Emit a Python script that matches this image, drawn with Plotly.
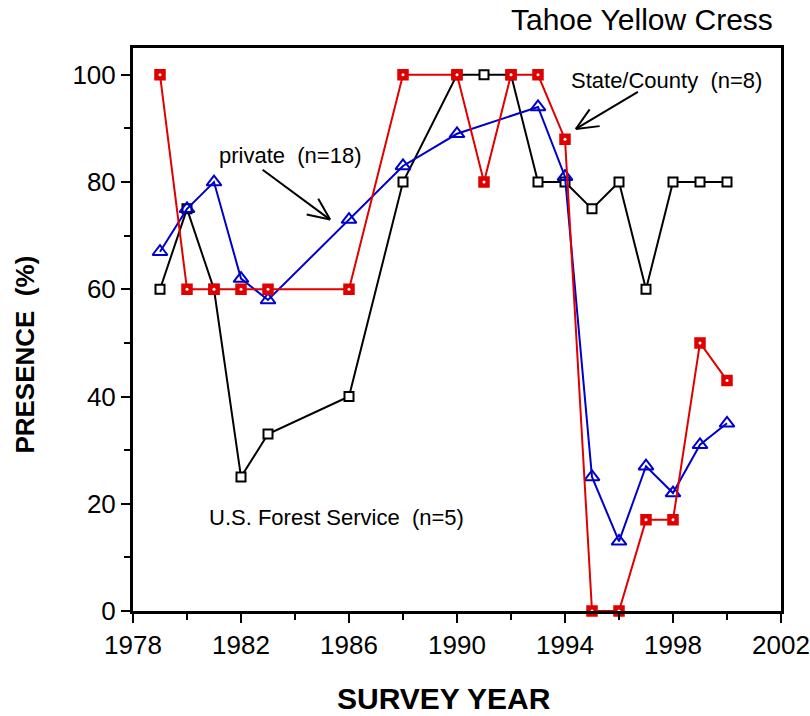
import math
import plotly.graph_objects as go

# Survey results: percent of sites where Tahoe Yellow Cress was present
years_usfs = [1979, 1980, 1981, 1982, 1983, 1986, 1988, 1990, 1991, 1992,
              1993, 1994, 1995, 1996, 1997, 1998, 1999, 2000]
usfs = [60, 75, 60, 25, 33, 40, 80, 100, 100, 100, 80, 80, 75, 80, 60, 80, 80, 80]

years_private = [1979, 1980, 1981, 1982, 1983, 1986, 1988, 1990, 1993, 1994,
                 1995, 1996, 1997, 1998, 1999, 2000]
private = [67, 75, 80, 62, 58, 73, 83, 89, 94, 81, 25, 13, 27, 22, 31, 35]

years_state = [1979, 1980, 1981, 1982, 1983, 1986, 1988, 1990, 1991, 1992,
               1993, 1994, 1995, 1996, 1997, 1998, 1999, 2000]
state = [100, 60, 60, 60, 60, 60, 100, 100, 80, 100, 100, 88, 0, 0, 17, 17, 50, 43]

x_ticks = [1978, 1982, 1986, 1990, 1994, 1998, 2002]
y_ticks = [0, 20, 40, 60, 80, 100]

FONT = "Arial, Liberation Sans, Helvetica, sans-serif"
BLACK = "#000000"
BLUE = "#0000cc"
RED = "#e00000"

X_RANGE = [1978, 2002]
Y_RANGE = [0, 105]
W, H = 810, 716
M = dict(l=133, r=29, t=48, b=105)
px_x = (W - M["l"] - M["r"]) / (X_RANGE[1] - X_RANGE[0])
px_y = (H - M["t"] - M["b"]) / (Y_RANGE[1] - Y_RANGE[0])

fig = go.Figure()

fig.add_trace(go.Scatter(
    x=years_usfs, y=usfs, mode="lines+markers", name="U.S. Forest Service",
    line=dict(color=BLACK, width=2),
    marker=dict(symbol="square", size=9, color="white",
                line=dict(color=BLACK, width=2)),
    cliponaxis=False,
))
fig.add_trace(go.Scatter(
    x=years_private, y=private, mode="lines+markers", name="private",
    line=dict(color=BLUE, width=2),
    marker=dict(symbol="triangle-up", size=13, color="rgba(0,0,0,0)",
                line=dict(color=BLUE, width=2)),
    cliponaxis=False,
))
fig.add_trace(go.Scatter(
    x=years_state, y=state, mode="lines+markers", name="State/County",
    line=dict(color=RED, width=2),
    marker=dict(symbol="square", size=10, color=RED,
                line=dict(color=RED, width=1.5)),
    cliponaxis=False,
))
# white centre dot on the State/County markers
fig.add_trace(go.Scatter(
    x=years_state, y=state, mode="markers", hoverinfo="skip",
    marker=dict(symbol="circle", size=3, color="white", line=dict(width=0)),
    cliponaxis=False,
))


def arrow(tail, tip, head_len=24, head_ang=24):
    """Line arrow with an open V head, tail/tip in data coordinates."""
    dx = (tail[0] - tip[0]) * px_x
    dy = (tail[1] - tip[1]) * px_y
    ang = math.atan2(dy, dx)
    segs = [(tail, tip)]
    for s in (-1, 1):
        a = ang + s * math.radians(head_ang)
        end = (tip[0] + head_len * math.cos(a) / px_x,
               tip[1] + head_len * math.sin(a) / px_y)
        segs.append((tip, end))
    for p0, p1 in segs:
        fig.add_shape(type="line", xref="x", yref="y",
                      x0=p0[0], y0=p0[1], x1=p1[0], y1=p1[1],
                      line=dict(color=BLACK, width=2))


arrow(tail=(1982.8, 82.3), tip=(1985.3, 73.0))
arrow(tail=(1996.7, 96.8), tip=(1994.4, 89.9))

label_font = dict(family=FONT, size=22, color=BLACK)
fig.add_annotation(x=1983.8, y=85.0, text="private\u00a0 (n=18)",
                   showarrow=False, font=label_font)
fig.add_annotation(x=1997.75, y=99.0, text="State/County\u00a0 (n=8)",
                   showarrow=False, font=label_font)
fig.add_annotation(x=1985.55, y=17.5, text="U.S. Forest Service\u00a0 (n=5)",
                   showarrow=False, font=label_font)

# chart title and axis titles
fig.add_annotation(xref="paper", yref="paper", x=0.99, y=1.05,
                   xanchor="right", yanchor="middle", text="Tahoe Yellow Cress",
                   showarrow=False, font=dict(family=FONT, size=30, color=BLACK))
fig.add_annotation(xref="paper", yref="paper", x=-0.167, y=0.455,
                   xanchor="center", yanchor="middle", textangle=-90,
                   text="<b>PRESENCE\u00a0 (%)</b>", showarrow=False,
                   font=dict(family=FONT, size=26, color=BLACK))
fig.add_annotation(xref="paper", yref="paper", x=0.48, y=-0.155,
                   xanchor="center", yanchor="middle",
                   text="<b>SURVEY YEAR</b>", showarrow=False,
                   font=dict(family=FONT, size=30, color=BLACK))

axis_common = dict(
    showgrid=False, zeroline=False, showline=True, linecolor=BLACK,
    linewidth=3, mirror=True, ticks="outside", ticklen=9, tickwidth=2,
    tickcolor=BLACK, tickfont=dict(family=FONT, size=26, color=BLACK),
    automargin=False,
)
fig.update_xaxes(range=X_RANGE, tickvals=x_ticks, ticklabeloverflow="allow",
                 minor=dict(dtick=2, tick0=1978, ticks="outside", ticklen=6,
                            tickwidth=2, tickcolor=BLACK),
                 **axis_common)
fig.update_yaxes(range=Y_RANGE, tickvals=y_ticks,
                 minor=dict(dtick=10, tick0=0, ticks="outside", ticklen=6,
                            tickwidth=2, tickcolor=BLACK),
                 **axis_common)

fig.update_layout(
    width=W, height=H, margin=M, showlegend=False,
    plot_bgcolor="white", paper_bgcolor="white",
    font=dict(family=FONT, color=BLACK),
)

fig.write_html("out.html")
